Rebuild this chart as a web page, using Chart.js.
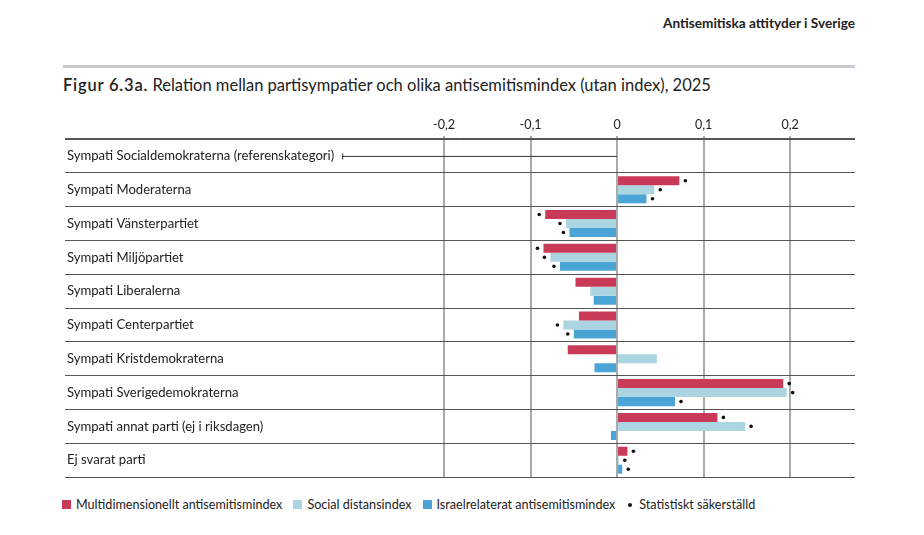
<!DOCTYPE html>
<html><head><meta charset="utf-8">
<script src="https://cdn.jsdelivr.net/npm/chart.js@4/dist/chart.umd.min.js"></script>
<style>
html,body{margin:0;padding:0;background:#fff;width:924px;height:535px;overflow:hidden;font-family:Lato,"Noto Sans",sans-serif;color:#222;}
#hdr{position:absolute;right:69px;top:15px;font-size:13.6px;font-weight:bold;color:#222;}
#rule{position:absolute;left:63px;top:65px;width:792px;height:3px;background:#c9c9d1;}
#title{position:absolute;left:63px;top:75px;font-size:16.5px;color:#222;white-space:nowrap;}
#title b{font-weight:600;letter-spacing:0.8px;}
#wrap{position:absolute;left:61px;top:113px;width:794px;height:374px;}
#legend{position:absolute;left:62px;top:497px;font-size:12.6px;color:#222;white-space:nowrap;display:flex;align-items:center;}
#legend span.sw{display:inline-block;width:9px;height:9px;margin-right:5px;}
#legend span.it{margin-right:11px;display:flex;align-items:center;}
#legend span.dot{display:inline-block;width:4px;height:4px;border-radius:50%;background:#111;margin-right:7px;margin-left:2px;}
</style></head>
<body>
<div id="hdr">Antisemitiska attityder i Sverige</div>
<div id="rule"></div>
<div id="title"><b>Figur 6.3a.</b> Relation mellan partisympatier och olika antisemitismindex (utan index), 2025</div>
<div id="wrap"><canvas id="c"></canvas></div>
<div id="legend"></div>
<script>
const categories = [
  "Sympati Socialdemokraterna (referenskategori)",
  "Sympati Moderaterna",
  "Sympati Vänsterpartiet",
  "Sympati Miljöpartiet",
  "Sympati Liberalerna",
  "Sympati Centerpartiet",
  "Sympati Kristdemokraterna",
  "Sympati Sverigedemokraterna",
  "Sympati annat parti (ej i riksdagen)",
  "Ej svarat parti"
];
const seriesNames = ["Multidimensionellt antisemitismindex", "Social distansindex", "Israelrelaterat antisemitismindex"];
const multiValues  = [null, 0.072, -0.083, -0.085, -0.048, -0.044, -0.057, 0.192, 0.116, 0.012];
const socialValues = [null, 0.043, -0.059, -0.077, -0.031, -0.062, 0.046, 0.196, 0.148, 0.002];
const israelValues = [null, 0.034, -0.055, -0.066, -0.027, -0.050, -0.026, 0.067, -0.007, 0.006];
const multiSig  = [false, true, true, true, false, false, false, true, true, true];
const socialSig = [false, true, true, true, false, true, false, true, true, true];
const israelSig = [false, true, true, true, false, true, false, true, false, true];
const tickValues = [-0.2, -0.1, 0, 0.1, 0.2];
const dotLabel = "Statistiskt säkerställd";
const colors = ["#c93a58", "#aad5e1", "#4aa5d6"];

const sigs = [multiSig, socialSig, israelSig];
const fontFam = 'Lato, "Noto Sans", sans-serif';
const labelSize = 13.1;

const extras = {
  id: 'extras',
  afterDatasetsDraw(chart) {
    const ctx = chart.ctx;
    ctx.save();
    for (let d = 0; d < 3; d++) {
      const meta = chart.getDatasetMeta(d);
      const vals = chart.data.datasets[d].data;
      meta.data.forEach((bar, i) => {
        if (!sigs[d][i] || vals[i] == null) return;
        const sgn = vals[i] >= 0 ? 1 : -1;
        ctx.beginPath();
        ctx.fillStyle = '#111';
        ctx.arc(bar.x + sgn * 6, bar.y, 1.8, 0, Math.PI * 2);
        ctx.fill();
      });
    }
    const y = chart.scales.y.getPixelForValue(0);
    const x0 = chart.scales.x.getPixelForValue(0);
    ctx.font = labelSize + 'px ' + fontFam;
    const w = ctx.measureText(categories[0]).width;
    const xs = chart.chartArea.left + 2 + w + 8;
    ctx.strokeStyle = '#333';
    ctx.lineWidth = 1;
    ctx.beginPath();
    ctx.moveTo(xs, y + 0.5); ctx.lineTo(x0, y + 0.5);
    ctx.moveTo(xs + 0.5, y - 2.5); ctx.lineTo(xs + 0.5, y + 3.5);
    ctx.stroke();
    ctx.restore();
  }
};

new Chart(document.getElementById('c'), {
  type: 'bar',
  data: {
    labels: categories,
    datasets: [
      { label: seriesNames[0], data: multiValues, backgroundColor: colors[0] },
      { label: seriesNames[1], data: socialValues, backgroundColor: colors[1] },
      { label: seriesNames[2], data: israelValues, backgroundColor: colors[2] }
    ]
  },
  options: {
    indexAxis: 'y',
    responsive: true,
    maintainAspectRatio: false,
    animation: false,
    layout: { padding: 0 },
    datasets: { bar: { barPercentage: 1.0, categoryPercentage: 0.8 } },
    plugins: { legend: { display: false }, tooltip: { enabled: false } },
    scales: {
      x: {
        position: 'top',
        min: -0.638, max: 0.275,
        afterBuildTicks(scale) { scale.ticks = tickValues.map(v => ({ value: v })); },
        ticks: {
          padding: 4,
          color: '#222',
          font: { family: fontFam, size: 12.5 },
          callback: v => String(v).replace('.', ',')
        },
        grid: { color: '#aaaaaa', lineWidth: 2, tickLength: 3, drawTicks: true },
        border: { display: true, color: '#555', width: 1 }
      },
      y: {
        position: 'left',
        offset: true,
        ticks: {
          mirror: true, padding: 2, color: '#222',
          font: { family: fontFam, size: labelSize }
        },
        grid: { offset: true, color: '#555', lineWidth: 1, drawTicks: false },
        border: { display: false }
      }
    }
  },
  plugins: [extras]
});

const lg = document.getElementById('legend');
seriesNames.forEach((n, i) => {
  const it = document.createElement('span'); it.className = 'it';
  const sw = document.createElement('span'); sw.className = 'sw'; sw.style.background = colors[i];
  it.appendChild(sw); it.appendChild(document.createTextNode(n)); lg.appendChild(it);
});
const it = document.createElement('span'); it.className = 'it';
const dt = document.createElement('span'); dt.className = 'dot';
it.appendChild(dt); it.appendChild(document.createTextNode(dotLabel)); lg.appendChild(it);
</script>
</body></html>
